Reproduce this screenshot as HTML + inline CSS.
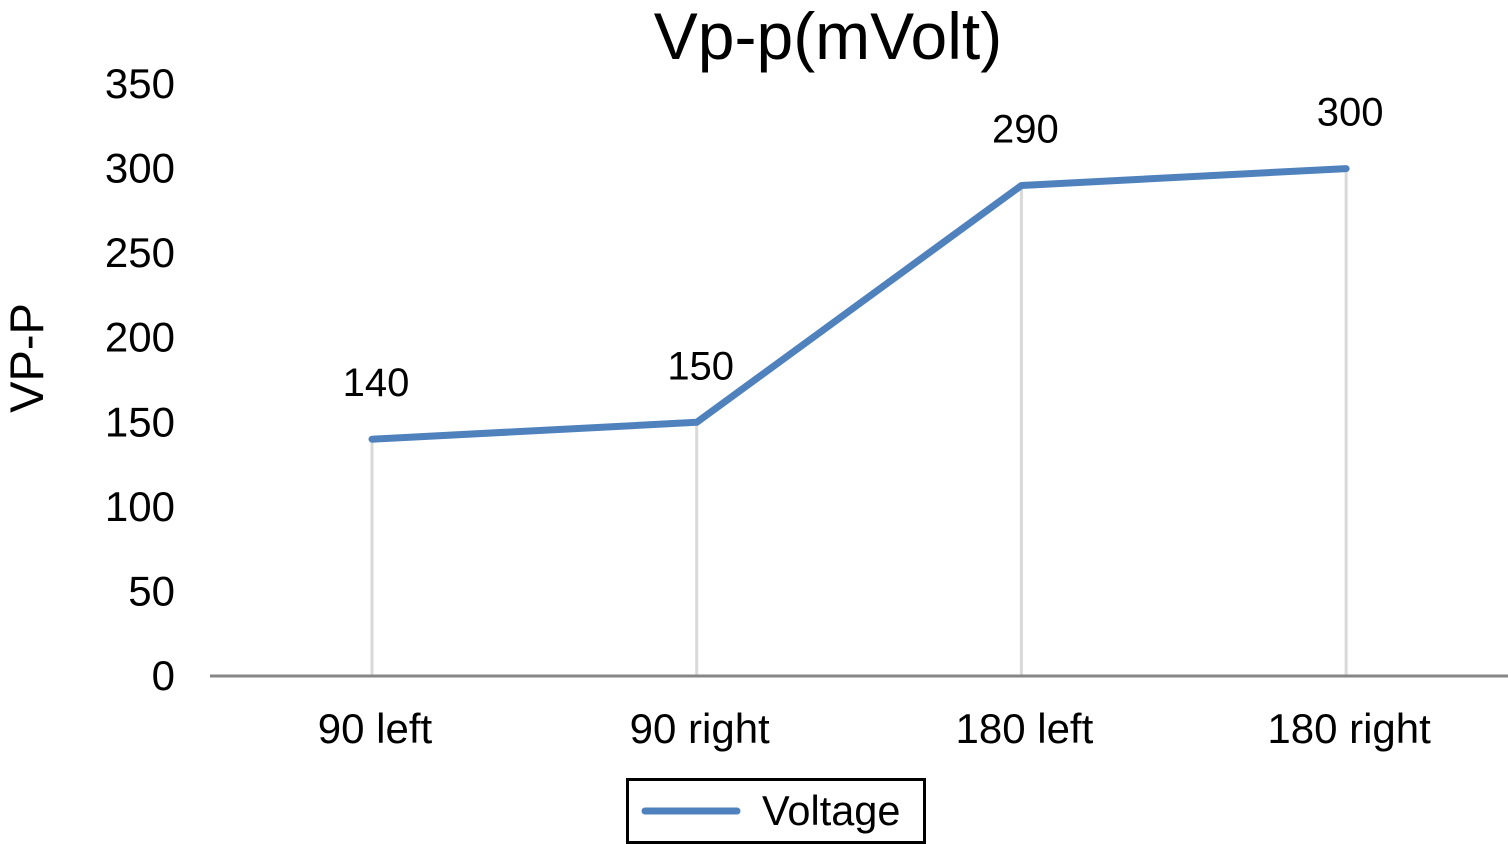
<!DOCTYPE html>
<html><head><meta charset="utf-8"><style>
body{margin:0;background:#fff;}
svg{display:block;font-family:"Liberation Sans",Arial,sans-serif;}
</style></head><body>
<svg id="chart" width="1508" height="844" viewBox="0 0 1508 844">
<text x="828" y="59" font-size="66" text-anchor="middle">Vp-p(mVolt)</text>
<text transform="translate(43,358) rotate(-90)" font-size="47" text-anchor="middle">VP-P</text>
<g id="yticks"></g><g id="drops"></g>
<line x1="210" y1="676" x2="1508" y2="676" stroke="#868686" stroke-width="3"/>
<g id="xticks"></g><g id="series"></g><g id="labels"></g>
<g>
<rect x="627.5" y="779.5" width="297" height="63" fill="#fff" stroke="#000" stroke-width="3"/>
<line x1="645" y1="811" x2="737" y2="811" stroke="#4f81bd" stroke-width="7" stroke-linecap="round"/>
<text x="762" y="825" font-size="41.5">Voltage</text>
</g>
</svg>
<script>
const categories=["90 left","90 right","180 left","180 right"];
const values=[140,150,290,300];
const yTicks=[0,50,100,150,200,250,300,350];
const NS="http://www.w3.org/2000/svg";
const y=v=>676-v*(592/350);
const x=i=>372+i*324.7;
function mk(t,a,p){const e=document.createElementNS(NS,t);for(const k in a)e.setAttribute(k,a[k]);document.getElementById(p).appendChild(e);return e;}
yTicks.forEach(v=>{const t=mk('text',{x:175,y:y(v)+14,'font-size':42,'text-anchor':'end'},'yticks');t.textContent=v;

});
categories.forEach((c,i)=>{const t=mk('text',{x:x(i)+3,y:743,'font-size':42,'text-anchor':'middle'},'xticks');t.textContent=c;


const d=mk('line',{x1:x(i),x2:x(i),y1:y(values[i]),y2:676,stroke:'#d9d9d9','stroke-width':3},'drops');


const l=mk('text',{x:x(i)+4,y:y(values[i])-43,'font-size':40,'text-anchor':'middle'},'labels');l.textContent=values[i];

});
const p=mk('polyline',{points:values.map((v,i)=>x(i)+','+y(v)).join(' '),fill:'none',stroke:'#4f81bd','stroke-width':7,'stroke-linecap':'round','stroke-linejoin':'round'},'series');


</script>
</body></html>
